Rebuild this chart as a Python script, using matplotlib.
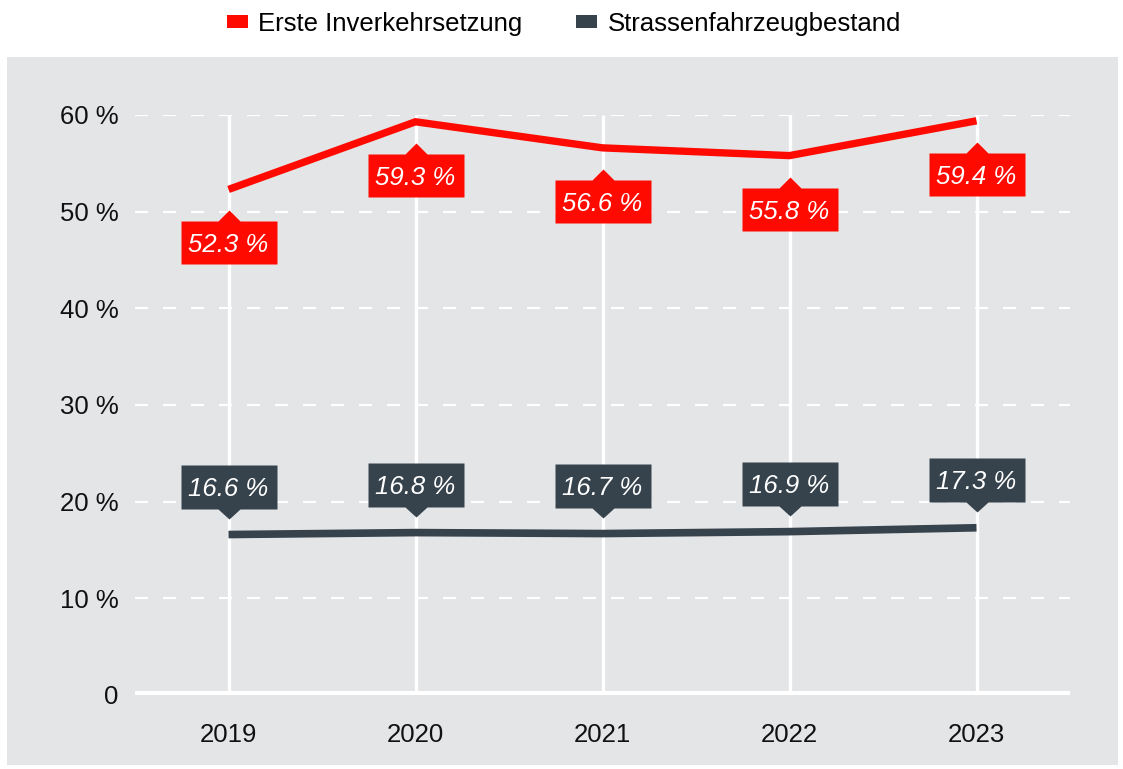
import matplotlib
matplotlib.use("Agg")
import matplotlib.pyplot as plt
from matplotlib.patches import Rectangle, Patch
import matplotlib.transforms as mtransforms

plt.rcParams['font.family'] = ['Liberation Sans', 'DejaVu Sans']

years = ["2019", "2020", "2021", "2022", "2023"]
erste = [52.3, 59.3, 56.6, 55.8, 59.4]
bestand = [16.6, 16.8, 16.7, 16.9, 17.3]
yticks = [0, 10, 20, 30, 40, 50, 60]
ytick_labels = ["0", "10 %", "20 %", "30 %", "40 %", "50 %", "60 %"]
series_names = ["Erste Inverkehrsetzung", "Strassenfahrzeugbestand"]

RED = "#ff0a00"
DARK = "#36434c"
BG = "#e4e5e7"

W, H = 1123, 769
dpi = 100
fig = plt.figure(figsize=(W / dpi, H / dpi), dpi=dpi, facecolor="white")

# gray panel
fig.patches.append(Rectangle((7 / W, 4 / H), (1118 - 7) / W, (H - 57 - 4) / H,
                             transform=fig.transFigure, facecolor=BG,
                             edgecolor="none", zorder=-5))

ax = fig.add_axes([135 / W, 74 / H, (1070 - 135) / W, (695 - 115) / H])
ax.set_facecolor("none")
ax.set_zorder(1)
x = list(range(len(years)))
ax.set_xlim(-0.5, len(years) - 0.5)
ax.set_ylim(0, 60)

for s in ax.spines.values():
    s.set_visible(False)

px = 72.0 / dpi  # points per pixel

# grid
glw = 1.6
for yv in yticks[1:]:
    ax.axhline(yv, color="white", lw=glw,
               linestyle=(0, (13 * px / glw, 15 * px / glw)), zorder=1)
for xv in x:
    ax.plot([xv, xv], [0, 60], color="white", lw=2.4, zorder=1, solid_capstyle="butt")
ax.axhline(0, color="white", lw=5.8, zorder=2, solid_capstyle="butt")

ax.plot(x, erste, color=RED, lw=5.3, zorder=3, solid_capstyle="butt", solid_joinstyle="miter")
ax.plot(x, bestand, color=DARK, lw=5.5, zorder=3, solid_capstyle="butt", solid_joinstyle="miter")

ax.set_yticks(yticks)
ax.set_yticklabels(ytick_labels)
ax.set_xticks(x)
ax.set_xticklabels(years)
ax.tick_params(axis="both", length=0, labelsize=18.5, colors="#111111")
ax.tick_params(axis="y", pad=12)
ax.tick_params(axis="x", pad=20)

# callout shapes (pixel offsets relative to the data point, y up)
below_shape = [(-48, -32), (-11, -32), (0, -21), (11, -32), (48, -32),
               (48, -75), (-48, -75), (-48, -32)]
above_shape = [(-48, 26), (-11, 26), (0, 16), (11, 26), (48, 26),
               (48, 70), (-48, 70), (-48, 26)]


def label(xv, yv, txt, color, below):
    shape = below_shape if below else above_shape
    m = max(max(abs(a), abs(b)) for a, b in shape)
    msize = 2 * m * px
    ax.plot([xv], [yv], marker=shape, markersize=msize, color=color, mec="none",
            zorder=5, clip_on=False, linestyle="none")
    center = -53.5 if below else 48
    ax.annotate(txt, xy=(xv, yv), xytext=(0, center * px), textcoords="offset points",
                ha="center", va="center_baseline", fontsize=18.5, style="italic",
                color="white", zorder=6, annotation_clip=False)


for xv, v in zip(x, erste):
    label(xv, v, f"{v:.1f} %", RED, True)
for xv, v in zip(x, bestand):
    label(xv, v, f"{v:.1f} %", DARK, False)

handles = [Patch(facecolor=RED, edgecolor="none"),
           Patch(facecolor=DARK, edgecolor="none")]
fig.legend(handles, series_names, loc="center", bbox_to_anchor=(564 / W, 1 - 24 / H),
           ncol=2, frameon=False, fontsize=18.5, handletextpad=0.39, columnspacing=2.1,
           handlelength=0.82, handleheight=0.39, borderpad=0, borderaxespad=0)

fig.savefig("out.png", dpi=dpi, facecolor="white")
